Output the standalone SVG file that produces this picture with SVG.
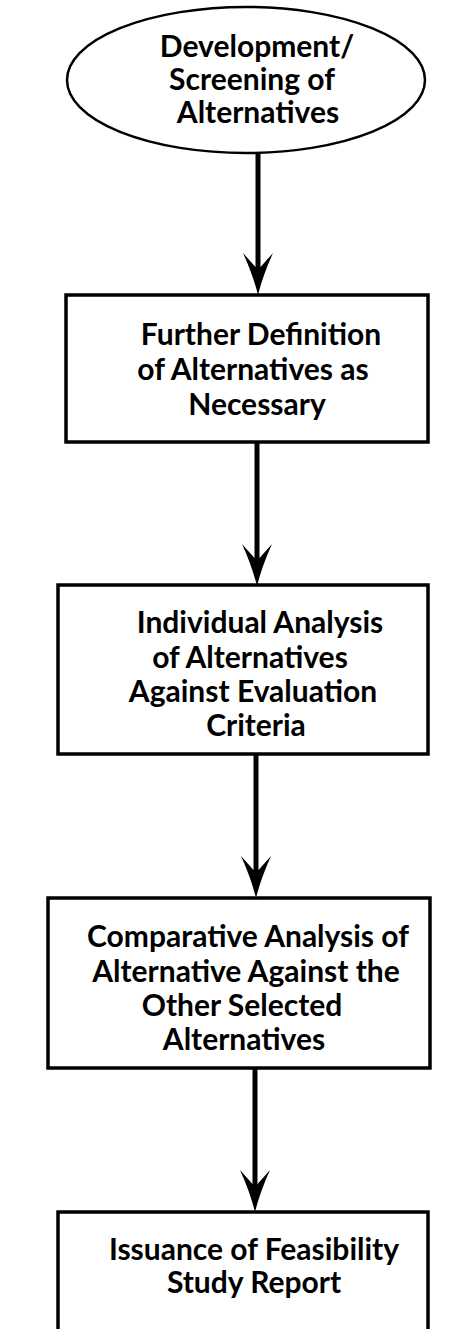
<svg xmlns="http://www.w3.org/2000/svg" width="461" height="1329" viewBox="0 0 461 1329">
<style>
.box{fill:#fff;stroke:#000;stroke-width:3.5}
.ell{fill:#fff;stroke:#000;stroke-width:2.5}
.t{font-family:Lato,"Open Sans","Liberation Sans",sans-serif;font-size:30px;font-weight:bold;fill:#000;text-anchor:middle}
.shaft{stroke:#000;stroke-width:5;fill:none}
.head{fill:#000;stroke:none}
</style>
<rect width="461" height="1329" fill="#fff"/>
<g id="connectors">
  <line class="shaft" x1="258" y1="153" x2="258" y2="270"/>
  <path class="head" d="M258 295 Q253 275 243 253 L255.5 267 L260.5 267 L273 253 Q263 275 258 295 Z"/>
  <line class="shaft" x1="257" y1="442" x2="257" y2="562"/>
  <path class="head" d="M257 586 Q252 566 242 544 L254.5 558 L259.5 558 L272 544 Q262 566 257 586 Z"/>
  <line class="shaft" x1="256" y1="754" x2="256" y2="874"/>
  <path class="head" d="M256 898 Q251 878 241 856 L253.5 870 L258.5 870 L271 856 Q261 878 256 898 Z"/>
  <line class="shaft" x1="255" y1="1068" x2="255" y2="1188"/>
  <path class="head" d="M255 1212 Q250 1192 240 1170 L252.5 1184 L257.5 1184 L270 1170 Q260 1192 255 1212 Z"/>
</g>
<g id="n1">
  <ellipse class="ell" cx="246" cy="80" rx="179" ry="73"/>
  <text class="t" x="257" y="57">Development/</text>
  <text class="t" x="252" y="90">Screening of</text>
  <text class="t" x="258" y="123">Alternatives</text>
</g>
<g id="n2">
  <rect class="box" x="66" y="295" width="362" height="147"/>
  <text class="t" x="261" y="345">Further Definition</text>
  <text class="t" x="253" y="380">of Alternatives as</text>
  <text class="t" x="257" y="415">Necessary</text>
</g>
<g id="n3">
  <rect class="box" x="58" y="585" width="370" height="169"/>
  <text class="t" x="260" y="633">Individual Analysis</text>
  <text class="t" x="250" y="668">of Alternatives</text>
  <text class="t" x="253" y="702">Against Evaluation</text>
  <text class="t" x="256" y="736">Criteria</text>
</g>
<g id="n4">
  <rect class="box" x="48" y="898" width="382" height="170"/>
  <text class="t" x="248" y="947">Comparative Analysis of</text>
  <text class="t" x="246" y="982">Alternative Against the</text>
  <text class="t" x="242" y="1016">Other Selected</text>
  <text class="t" x="244" y="1050">Alternatives</text>
</g>
<g id="n5">
  <rect class="box" x="58" y="1212" width="370" height="140"/>
  <text class="t" x="254" y="1260">Issuance of Feasibility</text>
  <text class="t" x="254" y="1293">Study Report</text>
</g>
</svg>
